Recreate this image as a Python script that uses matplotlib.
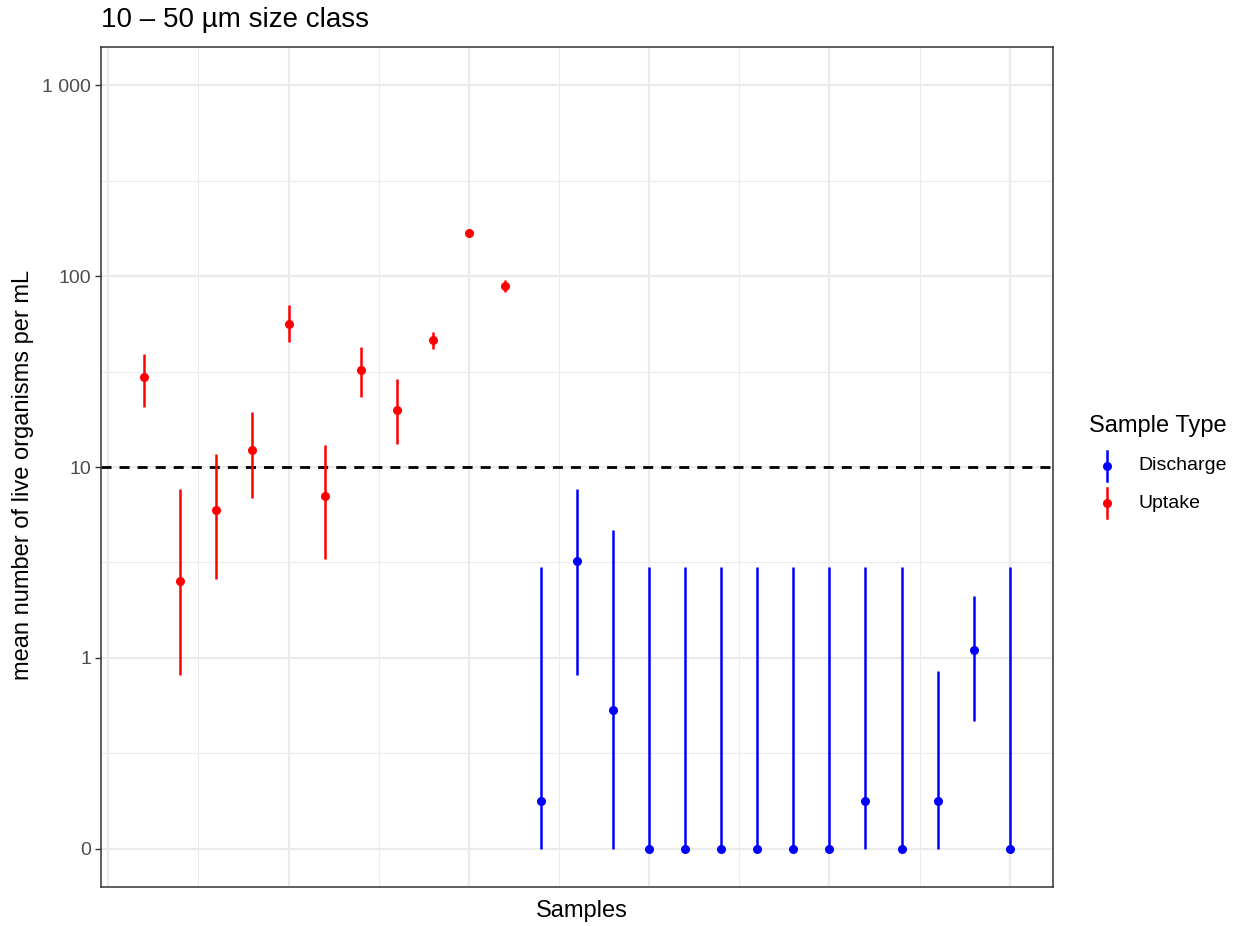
import matplotlib
matplotlib.use("Agg")
import matplotlib.pyplot as plt
import numpy as np
from matplotlib.lines import Line2D
from matplotlib.ticker import FixedLocator

# ---- data ----
sample = list(range(1, 26))
sample_type = ["Uptake"] * 11 + ["Discharge"] * 14
mean_val = [29.6, 2.53, 5.96, 12.3, 56.1, 7.05, 32.2, 19.9, 46.2, 168, 88.6,
            0.178, 3.22, 0.534, 0, 0, 0, 0, 0, 0, 0.178, 0, 0.178, 1.10, 0]
lower_val = [20.6, 0.815, 2.59, 6.88, 45.1, 3.30, 23.3, 13.2, 41.5, 160, 82.4,
             0, 0.815, 0, 0, 0, 0, 0, 0, 0, 0, 0, 0, 0.468, 0]
upper_val = [39.0, 7.67, 11.7, 19.4, 70.5, 13.0, 42.5, 28.9, 50.9, 176, 95.3,
             3.0, 7.67, 4.68, 3.0, 3.0, 3.0, 3.0, 3.0, 3.0, 3.0, 3.0, 0.855, 2.11, 3.0]
threshold = 10
y_breaks = [0, 1, 10, 100, 1000]
y_labels = ["0", "1", "10", "100", "1 000"]
type_colors = {"Discharge": "#0000FF", "Uptake": "#FF0000"}

plt.rcParams['font.family'] = ['Liberation Sans', 'DejaVu Sans']


def fwd(y):
    y = np.asarray(y, dtype=float)
    return np.where(y > 0, np.log10(np.maximum(y, 0.1)), -1 + y)


def inv(t):
    t = np.asarray(t, dtype=float)
    return np.where(t >= -1, 10 ** np.maximum(t, -1), t + 1)


fig = plt.figure(figsize=(12.41, 9.26), dpi=100)
W, H = 1241, 926
ax = fig.add_axes([101 / W, 1 - 887 / H, (1053 - 101) / W, (887 - 47) / H])

ax.set_yscale('function', functions=(fwd, inv))
ax.set_xlim(-0.2, 26.2)
ax.set_ylim(-0.2, 10 ** 3.2)

x = np.array(sample)
m = np.array(mean_val)
lo = np.array(lower_val)
hi = np.array(upper_val)
types = np.array(sample_type)

for t in ["Uptake", "Discharge"]:
    sel = types == t
    ax.vlines(x[sel], lo[sel], hi[sel], colors=type_colors[t], lw=1.8, zorder=3)
    ax.plot(x[sel], m[sel], 'o', color=type_colors[t], ms=6.5, zorder=4,
            markeredgewidth=0)

ax.axhline(threshold, color='black', lw=2, dashes=(3.6, 2.9), zorder=2.5)

# grid
ax.set_yticks(y_breaks)
ax.set_yticklabels(y_labels)
ax.yaxis.set_minor_locator(FixedLocator([10 ** -0.5, 10 ** 0.5, 10 ** 1.5, 10 ** 2.5]))
ax.set_xticks([0, 5, 10, 15, 20, 25])
ax.set_xticklabels([])
ax.xaxis.set_minor_locator(FixedLocator([2.5, 7.5, 12.5, 17.5, 22.5]))
ax.grid(True, which='major', color='#EBEBEB', lw=1.6, zorder=0)
ax.grid(True, which='minor', color='#EBEBEB', lw=0.8, zorder=0)
ax.set_axisbelow(True)
ax.tick_params(axis='x', which='both', length=0)
ax.tick_params(axis='y', which='minor', length=0)
ax.tick_params(axis='y', which='major', length=4, width=1, color='#333333',
               labelsize=14, labelcolor='#4D4D4D', pad=3)
for s in ax.spines.values():
    s.set_color('#333333')
    s.set_linewidth(1.1)

ax.set_xlabel("Samples", fontsize=17, labelpad=6)
ax.set_ylabel("mean number of live organisms per mL", fontsize=17, labelpad=6)
ax.xaxis.label.set_x(0.505)
ax.yaxis.label.set_y(0.491)
fig.text(101 / W, 1 - 20 / H, "10 \u2013 50 \u00b5m size class", fontsize=20,
         ha='left', va='center')

# legend
fig.text(1089 / W, 1 - 426 / H, "Sample Type", fontsize=17, ha='left', va='center')
for yc, t in [(466, "Discharge"), (503, "Uptake")]:
    fig.add_artist(Line2D([1107 / W, 1107 / W], [1 - (yc - 15) / H, 1 - (yc + 15) / H],
                          color=type_colors[t], lw=1.8, transform=fig.transFigure))
    fig.add_artist(Line2D([1107 / W], [1 - yc / H], marker='o', ms=6.5, color=type_colors[t],
                          markeredgewidth=0, transform=fig.transFigure))
    fig.text(1138 / W, 1 - yc / H, t, fontsize=14, ha='left', va='center')

fig.savefig("out.png", dpi=100)
